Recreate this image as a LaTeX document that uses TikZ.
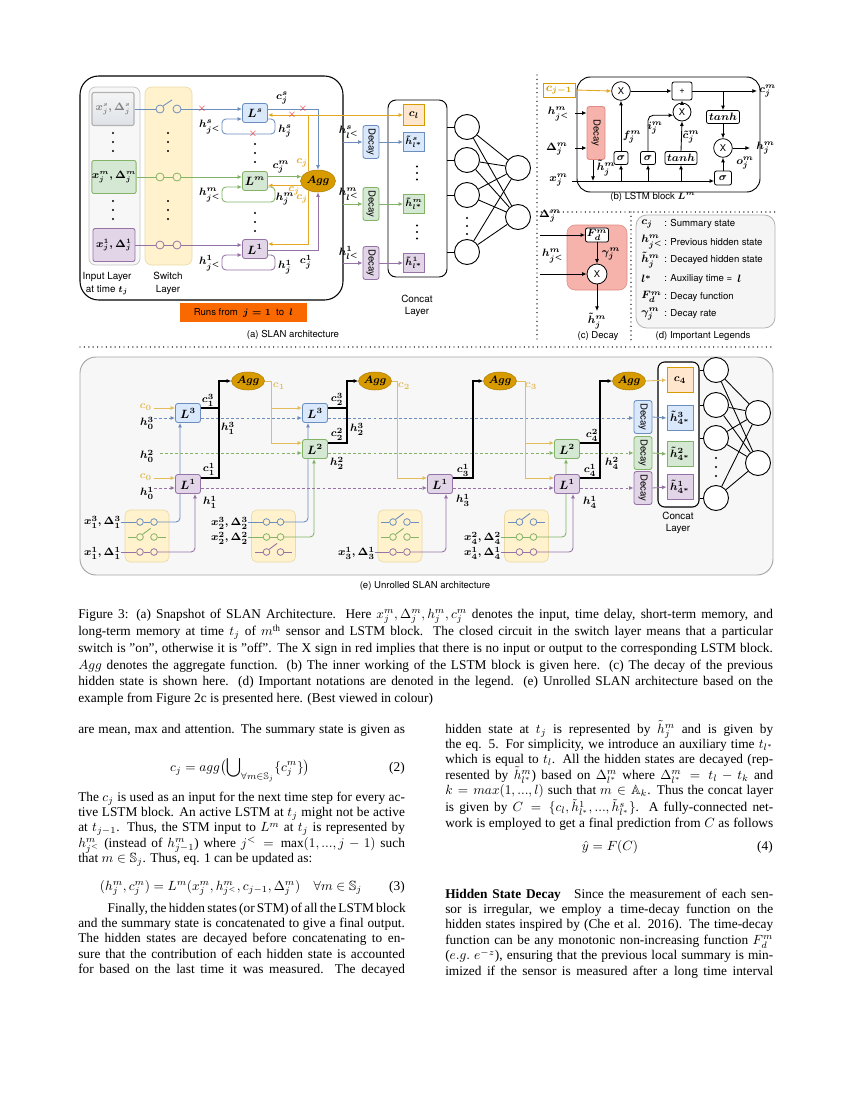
\documentclass[tikz,border=0pt]{standalone}
\usepackage{amssymb}
\usepackage{graphicx}
\usepackage{fontspec}
\setmainfont{Liberation Serif}
\setsansfont{TeX Gyre Heros}
\usetikzlibrary{arrows.meta,calc,shapes.geometric}
\pgfdeclarelayer{back}
\pgfdeclarelayer{mid}
\pgfsetlayers{back,mid,main}

\definecolor{bfill}{HTML}{DAE8FC}\definecolor{bdraw}{HTML}{6C8EBF}
\definecolor{gfill}{HTML}{D5E8D4}\definecolor{gdraw}{HTML}{82B366}
\definecolor{pfill}{HTML}{E1D5E7}\definecolor{pdraw}{HTML}{9673A6}
\definecolor{ofill}{HTML}{FFE6CC}\definecolor{odraw}{HTML}{D79B00}
\definecolor{yfill}{HTML}{FFF2CC}\definecolor{ydraw}{HTML}{EBD9A6}
\definecolor{aggfill}{HTML}{D79B00}\definecolor{aggdraw}{HTML}{B07D00}
\definecolor{caline}{HTML}{E5A823}
\definecolor{celine}{HTML}{E3BC5E}
\definecolor{runs}{HTML}{FA6800}
\definecolor{redfill}{HTML}{F5B3AC}\definecolor{reddraw}{HTML}{E08A82}
\definecolor{xred}{HTML}{F02020}

\newcommand{\dfont}{\sffamily\fontsize{7.2}{8.6}\selectfont}
\newcommand{\mfont}{\fontsize{8}{9}\selectfont\boldmath}
\newcommand{\sfontm}{\fontsize{7}{8}\selectfont\boldmath}
\newcommand{\lfont}{\fontsize{9}{10}\selectfont\boldmath}
\newcommand{\ifont}{\fontsize{7.8}{9}\selectfont\boldmath}
\newcommand{\afont}{\fontsize{8.5}{9.5}\selectfont\boldmath}
\newcommand{\mlab}[1]{{\boldmath$#1$}}
\newcommand{\bodyfont}{\rmfamily\fontsize{10}{11.6}\selectfont}
\newcommand{\capfont}{\rmfamily\fontsize{10}{12.4}\selectfont}
\newcommand{\jline}[1]{\makebox[\linewidth][s]{#1}\\}
\newcommand{\tdots}[3][9]{\fill (#2,#3-#1) circle (0.8pt) (#2,#3) circle (0.8pt) (#2,#3+#1) circle (0.8pt);}
\def\swd{7}
\newcommand{\swon}[4]{%
  \node[sw,draw=#4] (#1l) at (#2-\swd,#3) {};
  \node[sw,draw=#4] (#1r) at (#2+\swd,#3) {};
  \draw[cn,#4] (#1l.east) -- (#1r.west);}
\newcommand{\swoff}[4]{%
  \node[sw,draw=#4] (#1l) at (#2-\swd,#3) {};
  \node[sw,draw=#4] (#1r) at (#2+\swd,#3) {};
  \draw[cn,#4] (#1l.north east) -- ++(8,-6);
  \draw[cn,#4] (#1l.west) -- ++(-8,0);
  \draw[cn,#4] (#1r.east) -- ++(8,0);}

\begin{document}
\begin{tikzpicture}[x=0.75pt,y=-0.75pt,
  >={Latex[length=3.4pt,width=3pt]},
  every node/.style={font=\dfont,inner sep=0pt},
  cn/.style={line width=0.65pt},
  cb/.style={draw=bdraw,fill=bfill},
  cg/.style={draw=gdraw,fill=gfill},
  cp/.style={draw=pdraw,fill=pfill},
  co/.style={draw=odraw,fill=ofill},
  lstm/.style={rounded corners=1.8pt,line width=0.65pt,minimum width=18.75pt,minimum height=14.25pt,font=\lfont},
  inbox/.style={rounded corners=1.5pt,line width=0.65pt,minimum width=31.5pt,minimum height=24.75pt,font=\ifont},
  agg/.style={ellipse,fill=aggfill,draw=aggdraw,line width=0.4pt,minimum width=24.75pt,minimum height=13.5pt,font=\afont},
  decay/.style={rounded corners=1.8pt,line width=0.65pt,minimum width=12pt,minimum height=24.75pt},
  hbox/.style={line width=0.65pt,minimum width=15.75pt,minimum height=14.25pt,font=\mfont},
  sw/.style={circle,line width=0.6pt,minimum size=5pt,fill=yfill},
  nn/.style={circle,draw,line width=0.7pt,minimum size=18.75pt,fill=white},
  lab/.style={font=\mfont},
  xr/.style={text=xred,font=\fontsize{8}{8}\selectfont},
  gate/.style={draw,fill=white,rounded corners=1.5pt,line width=0.6pt,minimum height=9.75pt,font=\mfont},
  op/.style={circle,draw,fill=white,line width=0.6pt,minimum size=14pt,font=\sffamily\fontsize{7}{7}\selectfont},
  twol/.style={align=center,font=\sffamily\fontsize{7.4}{9.5}\selectfont},
  dotsep/.style={line width=1.1pt,dash pattern=on 0pt off 3.3pt,line cap=round},
  ds/.style={cn,dash pattern=on 2.2pt off 1.6pt}]
\useasboundingbox (0,0) rectangle (850,1100);
\begin{pgfonlayer}{back}
\fill[white] (0,0) rectangle (850,1100);
\end{pgfonlayer}

% ================= (a) =================
\begin{pgfonlayer}{back}
\draw[line width=0.8pt,fill=white,rounded corners=14pt] (80,76) rectangle (343,300);
\draw[draw=gray!45,fill=gray!6,rounded corners=5pt,line width=0.6pt] (89,87) rectangle (140,265);
\draw[draw=ydraw,fill=yfill,rounded corners=5pt,line width=0.5pt] (145,87) rectangle (192,265);
\end{pgfonlayer}

\node[inbox,draw=gray!60,line width=0.9pt,top color=gray!8,bottom color=bfill!60!gray!45,text=gray] (xs) at (113,109) {$x_j^s,\Delta_j^s$};
\node[inbox,cg] (xm) at (114,177) {$x_j^m,\Delta_j^m$};
\node[inbox,cp] (x1) at (114,245) {$x_j^1,\Delta_j^1$};

\node[lstm,cb] (Ls) at (255,113) {$L^s$};
\node[lstm,cg] (Lm) at (255,181) {$L^m$};
\node[lstm,cp] (L1) at (255,249) {$L^1$};
\node[agg,minimum width=26.25pt,minimum height=16.5pt] (Agg) at (318,181) {$Agg$};

\begin{scope}[sw/.append style={minimum size=6pt}]
\def\swd{8.5}
\node[sw,draw=bdraw] (asl) at (160,109) {};
\node[sw,draw=bdraw] (asr) at (177,109) {};
\swon{am}{168.5}{177}{gdraw}
\swon{a1}{168.5}{245}{pdraw}
\end{scope}
\draw[cn,bdraw] (xs.east) -- (asl.west);
\draw[cn,bdraw] (asl.north east) -- ++(9,-6);
\draw[cn,bdraw,->] (asr.east) -- (Ls.west |- asr);
\draw[cn,gdraw] (xm.east) -- (aml.west);
\draw[cn,gdraw,->] (amr.east) -- (Lm.west |- amr);
\draw[cn,pdraw] (x1.east) -- (a1l.west);
\draw[cn,pdraw,->] (a1r.east) -- (L1.west |- a1r);

\draw[cn,bdraw,->,rounded corners=3pt] (Ls.east |- 0,119) -- (275,119) -- (275,134) -- (222,134) -- (222,119) -- (Ls.west |- 0,119);
\draw[cn,gdraw,->,rounded corners=3pt] (Lm.east |- 0,187) -- (275,187) -- (275,202) -- (222,202) -- (222,187) -- (Lm.west |- 0,187);
\draw[cn,pdraw,->,rounded corners=3pt] (L1.east |- 0,255) -- (275,255) -- (275,270) -- (222,270) -- (222,255) -- (L1.west |- 0,255);

\draw[cn,bdraw,->] (Ls.east |- 0,109) -| (Agg.north);
\draw[cn,gdraw,->] (Lm.east |- Agg.165) -- (Agg.165);
\draw[cn,pdraw,->] (L1.east |- 0,250) -| (Agg.south);

% concat (a)
\node[draw,line width=0.7pt,rounded corners=6pt,minimum width=44.25pt,minimum height=132.75pt] (cat) at (417.5,188.5) {};
\node[hbox,co,minimum height=15.75pt] (cl) at (414,115) {$c_l$};
\node[hbox,cb,font=\sfontm] (hts) at (414,142) {$\tilde h_{l^*}^s$};
\node[hbox,cg,font=\sfontm] (htm) at (414,204) {$\tilde h_{l^*}^m$};
\node[hbox,cp,font=\sfontm] (ht1) at (414,263) {$\tilde h_{l^*}^1$};

\draw[cn,caline,->] (Agg.135) |- (Ls.east |- 0,115);
\draw[cn,caline,->] (Agg.135) |- (cl.west);
\draw[cn,caline,->] (Agg.195) -- (Lm.east |- Agg.195);
\draw[cn,caline,->] (Agg.225) |- (L1.east |- 0,244);

\node[xr] (r1) at (202,109) {$\times$};
\node[xr] (r2) at (253,134) {$\times$};
\node[xr] (r3) at (292,115) {$\times$};
\node[xr] (r4) at (303,109) {$\times$};

\node[lab] at (282,98) {$c_j^s$};
\node[lab] at (285,131) {$h_j^s$};
\node[lab] at (210,127) {$h_{j^<}^s$};
\node[lab] at (281,167) {$c_j^m$};
\node[lab] at (285,199) {$h_j^m$};
\node[lab] at (210,195) {$h_{j^<}^m$};
\node[lab] at (306,262) {$c_j^1$};
\node[lab] at (285,267) {$h_j^1$};
\node[lab] at (210,263) {$h_{j^<}^1$};
\node[lab,text=caline] at (302,163) {$c_j$};
\node[lab,text=caline] at (294,191) {$c_j$};
\node[lab,text=caline] at (302,199) {$c_j$};

\tdots{113}{142}\tdots{113}{210}
\tdots{168}{142}\tdots{168}{210}
\tdots{255}{153}\tdots{255}{222}

\node[twol] at (107,283.5) {Input Layer\\at time \mlab{t_j}};
\node[twol] at (168,283.5) {Switch\\Layer};
\node[fill=runs,minimum width=95.25pt,minimum height=14.25pt] (runs) at (243.5,312.5) {Runs from \ \mlab{j=1} \ to \ \mlab{l}};
\node at (293,335) {(a) SLAN architecture};

% decays (a)
\node[decay,cb] (das) at (371,142) {\rotatebox{-90}{Decay}};
\node[decay,cg] (dam) at (371,204) {\rotatebox{-90}{Decay}};
\node[decay,cp] (da1) at (371,263) {\rotatebox{-90}{Decay}};
\coordinate (eas) at (343,142);
\coordinate (eam) at (343,204);
\coordinate (ea1) at (343,263);
\draw[cn,bdraw,->] (eas) -- (das.west);
\draw[cn,gdraw,->] (eam) -- (dam.west);
\draw[cn,pdraw,->] (ea1) -- (da1.west);
\draw[cn,bdraw,->] (das.east) -- (hts.west);
\draw[cn,gdraw,->] (dam.east) -- (htm.west);
\draw[cn,pdraw,->] (da1.east) -- (ht1.west);
\node[lab] at (349,132) {$h_{l^<}^s$};
\node[lab] at (349,194) {$h_{l^<}^m$};
\node[lab] at (349,253) {$h_{l^<}^1$};
\tdots[6.5]{417}{173}\tdots[6.5]{417}{232}
\node[twol] at (417,306) {Concat\\Layer};

% NN (a)
\node[nn] (n1) at (467,127) {};
\node[nn] (n2) at (467,160) {};
\node[nn] (n3) at (467,195) {};
\node[nn] (n4) at (467,252) {};
\node[nn] (m1) at (518,168) {};
\node[nn] (m2) at (518,217) {};
\foreach \a in {n1,n2,n3,n4}{\draw[cn] (cat.east |- \a) -- (\a.west);
  \foreach \b in {m1,m2}{\draw[cn] (\a) -- (\b);}}
\tdots[8]{467}{226}

% separators
\draw[dotsep] (537,75) -- (537,343);
\draw[dotsep] (80,347) -- (775,347);
\draw[dotsep] (537,212) -- (775,212);
\draw[dotsep] (631,212) -- (631,343);

% ================= (b) =================
\draw[line width=0.7pt,rounded corners=10pt] (577,77) rectangle (760,192);
\node[draw=odraw,fill=white,text=odraw,line width=0.65pt,minimum width=24pt,minimum height=10.5pt,font=\fontsize{9}{9}\selectfont\boldmath] (cj1) at (559,90) {$c_{j-1}$};
\node[op] (X1) at (621,91) {X};
\node[gate,minimum width=15pt,minimum height=13.5pt,font=\sffamily\fontsize{7}{7}\selectfont] (pl) at (682,91) {+};
\node[gate,minimum width=24.75pt] (th1) at (723,117) {$tanh$};
\node[op] (X3) at (723,148) {X};
\node[gate,minimum width=12.75pt,minimum height=10.5pt] (sg3) at (723,178) {$\sigma$};
\node[decay,draw=reddraw,fill=redfill,minimum width=13.5pt,minimum height=39.75pt] (Dec) at (596,133) {\rotatebox{-90}{Decay}};
\node[gate,minimum width=10.5pt] (sg1) at (621,158) {$\sigma$};
\node[gate,minimum width=11.25pt] (sg2) at (648,158) {$\sigma$};
\node[gate,minimum width=24pt] (th2) at (681,158) {$tanh$};
\node[op,minimum size=13.5pt] (X2) at (682,112) {X};
\coordinate (bh) at (575,113);
\coordinate (bd) at (575,148);
\coordinate (bx) at (572,181);
\coordinate (bc) at (757,91);
\coordinate (bho) at (750,148);
\coordinate (dd) at (593,181);
\draw[cn,caline,->] (cj1.east) -- (X1.west);
\draw[cn,->] (X1.east) -- (pl.west);
\draw[cn,->] (pl.east) -- (bc);
\draw[cn,->] (th1.north |- pl.east) -- (th1.north);
\draw[cn,->] (th1.south) -- (X3.north);
\draw[cn,->] (X3.east) -- (bho);
\draw[cn,->] (sg3.north) -- (X3.south);
\draw[cn,->] (bh) -- (Dec.west |- bh);
\draw[cn,->] (bd) -- (Dec.west |- bd);
\draw[cn,->] (Dec.south -| dd) -- (dd);
\draw[cn,->] (bx) -- (sg3.west |- bx);
\draw[cn,->] (sg1.south |- bx) -- (sg1.south);
\draw[cn,->] (sg2.south |- bx) -- (sg2.south);
\draw[cn,->] (th2.south |- bx) -- (th2.south);
\draw[cn,->] (sg1.north) -- (X1.south);
\draw[cn,->,rounded corners=4pt] (sg2.north) |- (X2.200);
\draw[cn,->] (th2.north) -- (X2.south);
\draw[cn,->] (X2.north) -- (pl.south);
\node[lab,anchor=east] at (570,114) {$h_{j^<}^m$};
\node[lab,anchor=east] at (568,149) {$\Delta_j^m$};
\node[lab,anchor=east] at (568,180) {$x_j^m$};
\node[lab] at (606,168) {$\tilde h_j^m$};
\node[lab] at (632,137) {$f_j^m$};
\node[lab] at (655,128) {$i_j^m$};
\node[lab] at (691,137) {$\tilde c_j^m$};
\node[lab] at (745,163) {$o_j^m$};
\node[lab,anchor=west] at (759,91) {$c_j^m$};
\node[lab,anchor=west] at (756,148) {$h_j^m$};
\node at (653,197) {(b) LSTM block \mlab{L^m}};

% ================= (c) =================
\begin{pgfonlayer}{back}
\draw[fill=redfill,draw=reddraw,line width=0.4pt,rounded corners=6pt] (567,225) rectangle (627,290);
\end{pgfonlayer}
\node[gate,minimum width=17.25pt,minimum height=10.5pt] (Fd) at (597,235) {$F_d^m$};
\node[op,minimum size=15pt] (Xc) at (597,274) {X};
\coordinate (cdl) at (540,235);
\coordinate (chl) at (540,274);
\coordinate (col) at (597,311);
\draw[cn,->] (cdl) -- (Fd.west);
\draw[cn,->] (Fd.south) -- (Xc.north);
\draw[cn,->] (chl) -- (Xc.west);
\draw[cn,->] (Xc.south) -- (col);
\node[lab] at (550,216) {$\Delta_j^m$};
\node[lab] at (553,256) {$h_{j^<}^m$};
\node[lab] at (611,254) {$\gamma_j^m$};
\node[lab] at (597,321) {$\tilde h_j^m$};
\node at (598,336) {(c) Decay};

% ================= (d) =================
\begin{pgfonlayer}{back}
\draw[fill=gray!8,draw=gray!60,line width=0.6pt,rounded corners=8pt] (636,215) rectangle (775,328);
\end{pgfonlayer}
\begin{scope}[every node/.append style={anchor=west}]
\node[lab] at (641,224) {$c_j$};            \node at (664,224) {: Summary state};
\node[lab] at (641,242) {$h_{j^<}^m$};      \node at (664,242) {: Previous hidden state};
\node[lab] at (641,260) {$\tilde h_j^m$};   \node at (664,260) {: Decayed hidden state};
\node[lab] at (641,279) {$l^*$};            \node at (664,279) {: Auxiliay time =};
\node[lab] at (737,279) {$l$};
\node[lab] at (641,297) {$F_d^m$};          \node at (664,297) {: Decay function};
\node[lab] at (641,314) {$\gamma_j^m$};     \node at (664,314) {: Decay rate};
\end{scope}
\node at (703,336) {(d) Important Legends};

% ================= (e) =================
\begin{pgfonlayer}{back}
\draw[fill=gray!6,draw=gray!70,line width=0.7pt,rounded corners=12pt] (80,357) rectangle (773,575);
\end{pgfonlayer}
\node[draw,fill=white,line width=0.8pt,rounded corners=5pt,minimum width=30.75pt,minimum height=108.75pt] (cat2) at (678.5,434.5) {};

\node[lstm,cb] (L3a) at (188,413) {$L^3$};
\node[lstm,cp] (L1a) at (188,484) {$L^1$};
\node[agg] (A1) at (248,381) {$Agg$};
\node[lstm,cb] (L3b) at (315,413) {$L^3$};
\node[lstm,cg] (L2b) at (315,449) {$L^2$};
\node[agg] (A2) at (375,381) {$Agg$};
\node[lstm,cp] (L1c) at (440,484) {$L^1$};
\node[agg] (A3) at (500,381) {$Agg$};
\node[lstm,cg] (L2d) at (567,449) {$L^2$};
\node[lstm,cp] (L1d) at (567,484) {$L^1$};
\node[agg] (A4) at (629,381) {$Agg$};

\node[decay,cb,minimum width=13.5pt] (D3) at (643,417) {\rotatebox{-90}{Decay}};
\node[decay,cg,minimum width=13.5pt] (D2) at (643,453) {\rotatebox{-90}{Decay}};
\node[decay,cp,minimum width=13.5pt] (D1) at (643,488) {\rotatebox{-90}{Decay}};
\node[hbox,co,minimum width=19.5pt,minimum height=18.75pt] (c4) at (680,380) {$c_4$};
\node[hbox,cb,minimum width=19.5pt,minimum height=18.75pt] (H3) at (680,418) {$\tilde h_{4^*}^3$};
\node[hbox,cg,minimum width=19.5pt,minimum height=18.75pt] (H2) at (680,454) {$\tilde h_{4^*}^2$};
\node[hbox,cp,minimum width=19.5pt,minimum height=18.75pt] (H1) at (680,487) {$\tilde h_{4^*}^1$};
\draw[cn,bdraw,->] (D3.east) -- (H3.west);
\draw[cn,gdraw,->] (D2.east) -- (H2.west);
\draw[cn,pdraw,->] (D1.east) -- (H1.west);
\draw[cn,celine,->] (A4.east) -- (c4.west);
\node[twol] at (678,523) {Concat\\Layer};

% NN (e)
\node[nn] (e1) at (716,370) {};
\node[nn] (e2) at (716,405) {};
\node[nn] (e3) at (716,438) {};
\node[nn] (e4) at (716,498) {};
\node[nn] (f1) at (758,413) {};
\node[nn] (f2) at (758,463) {};
\foreach \a in {e1,e2,e3,e4}{\draw[cn] (cat2.east |- \a) -- (\a.west);
  \foreach \b in {f1,f2}{\draw[cn] (\a) -- (\b);}}
\tdots[9]{716}{467}

% switch boxes
\begin{pgfonlayer}{back}
\foreach \cx in {147,273.5,400,526.5}{
  \draw[fill=yfill,draw=ydraw,line width=0.5pt,rounded corners=4pt] (\cx-22,510) rectangle (\cx+22,562);}
\end{pgfonlayer}
\swon{s1b}{147}{522}{bdraw}
\swoff{s1g}{147}{537}{gdraw}
\swon{s1p}{147}{552}{pdraw}
\swon{s2b}{273.5}{522}{bdraw}
\swon{s2g}{273.5}{537}{gdraw}
\swoff{s2p}{273.5}{552}{pdraw}
\swoff{s3b}{400}{522}{bdraw}
\swoff{s3g}{400}{537}{gdraw}
\swon{s3p}{400}{552}{pdraw}
\swoff{s4b}{526.5}{522}{bdraw}
\swon{s4g}{526.5}{537}{gdraw}
\swon{s4p}{526.5}{552}{pdraw}

\node[lab,anchor=east] (x1b) at (121,522) {$x_1^3,\Delta_1^3$};
\node[lab,anchor=east] (x1p) at (121,553) {$x_1^1,\Delta_1^1$};
\node[lab,anchor=east] (x2b) at (248,523) {$x_2^3,\Delta_2^3$};
\node[lab,anchor=east] (x2g) at (248,538) {$x_2^2,\Delta_2^2$};
\node[lab,anchor=east] (x3p) at (375,553) {$x_3^1,\Delta_3^1$};
\node[lab,anchor=east] (x4g) at (501,538) {$x_4^2,\Delta_4^2$};
\node[lab,anchor=east] (x4p) at (501,553) {$x_4^1,\Delta_4^1$};
\draw[cn,bdraw] (x1b.east |- s1bl) -- (s1bl.west);
\draw[cn,pdraw] (x1p.east |- s1pl) -- (s1pl.west);
\draw[cn,bdraw] (x2b.east |- s2bl) -- (s2bl.west);
\draw[cn,gdraw] (x2g.east |- s2gl) -- (s2gl.west);
\draw[cn,pdraw] (x3p.east |- s3pl) -- (s3pl.west);
\draw[cn,gdraw] (x4g.east |- s4gl) -- (s4gl.west);
\draw[cn,pdraw] (x4p.east |- s4pl) -- (s4pl.west);

\begin{pgfonlayer}{mid}
\draw[cn,bdraw,->,rounded corners=3pt] (s1br.east) -| ($(L3a.south)+(-8,0)$);
\draw[cn,pdraw,->,rounded corners=3pt] (s1pr.east) -| ($(L1a.south)+(7,0)$);
\draw[cn,bdraw,->,rounded corners=3pt] (s2br.east) -| ($(L3b.south)+(-7,0)$);
\draw[cn,gdraw,->,rounded corners=3pt] (s2gr.east) -| ($(L2b.south)+(-1,0)$);
\draw[cn,pdraw,->,rounded corners=3pt] (s3pr.east) -| ($(L1c.south)+(6,0)$);
\draw[cn,gdraw,->,rounded corners=3pt] (s4gr.east) -| ($(L2d.south)+(-1,0)$);
\draw[cn,pdraw,->,rounded corners=3pt] (s4pr.east) -| ($(L1d.south)+(6,0)$);
\end{pgfonlayer}

% inputs c0 / h0
\coordinate (c0a) at (154,408);
\coordinate (c0b) at (154,478);
\coordinate (h3s) at (154,418);
\coordinate (h2s) at (160,453);
\coordinate (h1s) at (154,488);
\node[lab,text=celine,anchor=east] at (152,407) {$c_0$};
\node[lab,text=celine,anchor=east] at (152,477) {$c_0$};
\node[lab] at (147,423) {$h_0^3$};
\node[lab] at (147,456) {$h_0^2$};
\node[lab] at (147,493) {$h_0^1$};

\draw[cn,celine,->] (c0a) -- (L3a.west |- c0a);
\draw[cn,celine,->] (c0b) -- (L1a.west |- c0b);
\coordinate (k1) at (271,408);
\coordinate (k2) at (525,443);
\draw[cn,celine,->] (A1.east) -- (271,381) |- (L3b.west |- k1);
\draw[cn,celine,->] (k1) |- (L2b.west |- 0,443);
\draw[cn,celine,->] (A2.east) -- (397,381) |- (L1c.west |- 0,478);
\draw[cn,celine,->] (A3.east) -- (525,381) |- (L2d.west |- k2);
\draw[cn,celine,->] (k2) |- (L1d.west |- 0,478);
\node[lab,text=celine] at (279,386) {$c_1$};
\node[lab,text=celine] at (404,386) {$c_2$};
\node[lab,text=celine] at (531,386) {$c_3$};

% dashed hidden lines
\draw[ds,bdraw,->] (h3s) -- (L3a.west |- h3s);
\draw[ds,bdraw,->] (L3a.east |- h3s) -- (L3b.west |- h3s);
\draw[ds,bdraw,->] (L3b.east |- h3s) -- (D3.west |- h3s);
\draw[ds,gdraw,->] (h2s) -- (L2b.west |- h2s);
\draw[ds,gdraw,->] (L2b.east |- h2s) -- (L2d.west |- h2s);
\draw[ds,gdraw,->] (L2d.east |- h2s) -- (D2.west |- h2s);
\draw[ds,pdraw,->] (h1s) -- (L1a.west |- h1s);
\draw[ds,pdraw,->] (L1a.east |- h1s) -- (L1c.west |- h1s);
\draw[ds,pdraw,->] (L1c.east |- h1s) -- (L1d.west |- h1s);
\draw[ds,pdraw,->] (L1d.east |- h1s) -- (D1.west |- h1s);

% black outputs
\draw[cn,line width=0.8pt] (L3a.east |- 0,408) -- (219,408);
\draw[cn,line width=0.8pt,->] (L1a.east |- 0,478) -- (219,478) -- (219,381) -- (A1.west);
\draw[cn,line width=0.8pt] (L3b.east |- 0,408) -- (347,408);
\draw[cn,line width=0.8pt,->] (L2b.east |- 0,443) -- (347,443) -- (347,381) -- (A2.west);
\draw[cn,line width=0.8pt,->] (L1c.east |- 0,478) -- (473,478) -- (473,381) -- (A3.west);
\draw[cn,line width=0.8pt] (L2d.east |- 0,443) -- (600,443);
\draw[cn,line width=0.8pt,->] (L1d.east |- 0,478) -- (600,478) -- (600,381) -- (A4.west);
\node[lab] at (208,400) {$c_1^3$};
\node[lab] at (228,428) {$h_1^3$};
\node[lab] at (209,469) {$c_1^1$};
\node[lab] at (210,502) {$h_1^1$};
\node[lab] at (337,399) {$c_2^3$};
\node[lab] at (337,434) {$c_2^2$};
\node[lab] at (357,429) {$h_2^3$};
\node[lab] at (337,463) {$h_2^2$};
\node[lab] at (463,470) {$c_3^1$};
\node[lab] at (463,500) {$h_3^1$};
\node[lab] at (592,435) {$c_4^2$};
\node[lab] at (590,470) {$c_4^1$};
\node[lab] at (612,463) {$h_4^2$};
\node[lab] at (590,502) {$h_4^1$};
\node at (425,586) {(e) Unrolled SLAN architecture};

% ================= caption & body =================
\node[anchor=base west] (cap) at (78,618) {\parbox[t]{521pt}{\capfont\parindent=0pt
\jline{Figure 3: (a) Snapshot of SLAN Architecture. Here $x_j^m,\Delta_j^m,h_j^m,c_j^m$ denotes the input, time delay, short-term memory, and}
\jline{long-term memory at time $t_j$ of $m^{\mathrm{th}}$ sensor and LSTM block. The closed circuit in the switch layer means that a particular}
\jline{switch is ''on'', otherwise it is ''off''. The X sign in red implies that there is no input or output to the corresponding LSTM block.}
\jline{$Agg$ denotes the aggregate function. (b) The inner working of the LSTM block is given here. (c) The decay of the previous}
\jline{hidden state is shown here. (d) Important notations are denoted in the legend. (e) Unrolled SLAN architecture based on the}
example from Figure 2c is presented here. (Best viewed in colour)}};

\node[anchor=base west] (t1) at (78,733) {\bodyfont\makebox[245pt][s]{are mean, max and attention. The summary state is given as}};
\node[anchor=base] (eq2) at (240,771) {\bodyfont $\displaystyle c_j = agg\bigl(\bigcup\nolimits_{\forall m\in\mathbb{S}_j}\{c_j^m\}\bigr)$};
\node[anchor=base east] (n2) at (405,771) {\bodyfont (2)};
\node[anchor=base west] (p1) at (78,801) {\parbox[t]{245pt}{\bodyfont\parindent=0pt
\jline{The $c_j$ is used as an input for the next time step for every ac-}
\jline{tive LSTM block. An active LSTM at $t_j$ might not be active}
\jline{at $t_{j-1}$. Thus, the STM input to $L^m$ at $t_j$ is represented by}
\jline{$h^m_{j^<}$ (instead of $h^m_{j-1}$) where $j^< = \max(1,...,j-1)$ such}
that $m\in\mathbb{S}_j$. Thus, eq. 1 can be updated as:}};
\node[anchor=base] (eq3) at (231,890) {\bodyfont $(h^m_j,c^m_j)=L^m(x^m_j,h^m_{j^<},c_{j-1},\Delta^m_j)\quad\forall m\in\mathbb{S}_j$};
\node[anchor=base east] (n3) at (405,890) {\bodyfont (3)};
\node[anchor=base west] (p2) at (78,912) {\parbox[t]{245pt}{\bodyfont\parindent=0pt
\jline{\hspace*{22pt}Finally, the hidden states (or STM) of all the LSTM block}
\jline{and the summary state is concatenated to give a final output.}
\jline{The hidden states are decayed before concatenating to en-}
\jline{sure that the contribution of each hidden state is accounted}
\makebox[\linewidth][s]{for based on the last time it was measured. The decayed}}};

\node[anchor=base west] (p3) at (445,733) {\parbox[t]{246pt}{\bodyfont\parindent=0pt
\jline{hidden state at $t_j$ is represented by $\tilde h_j^m$ and is given by}
\jline{the eq. 5. For simplicity, we introduce an auxiliary time $t_{l^*}$}
\jline{which is equal to $t_l$. All the hidden states are decayed (rep-}
\jline{resented by $\tilde h^m_{l^*}$) based on $\Delta^m_{l^*}$ where $\Delta^m_{l^*}=t_l-t_k$ and}
\jline{$k=max(1,...,l)$ such that $m\in\mathbb{A}_k$. Thus the concat layer}
\jline{is given by $C=\{c_l,\tilde h^1_{l^*},...,\tilde h^s_{l^*}\}$. A fully-connected net-}
\makebox[\linewidth][s]{work is employed to get a final prediction from $C$ as follows}}};
\node[anchor=base] (eq4) at (610,850) {\bodyfont $\hat y = F(C)$};
\node[anchor=base east] (n4) at (773,850) {\bodyfont (4)};
\node[anchor=base west] (p4) at (445,898) {\parbox[t]{246pt}{\bodyfont\parindent=0pt
\jline{\textbf{Hidden State Decay}\quad Since the measurement of each sen-}
\jline{sor is irregular, we employ a time-decay function on the}
\jline{hidden states inspired by (Che et al. 2016). The time-decay}
\jline{function can be any monotonic non-increasing function $F_d^m$}
\jline{($e.g.$ $e^{-z}$), ensuring that the previous local summary is min-}
\makebox[\linewidth][s]{imized if the sensor is measured after a long time interval}}};
\end{tikzpicture}
\end{document}
